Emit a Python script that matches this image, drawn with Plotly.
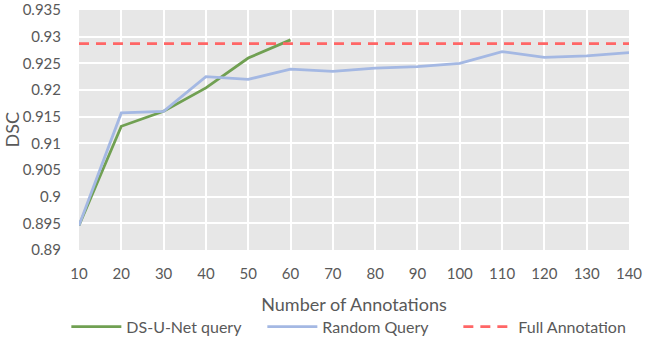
import plotly.graph_objects as go

annotations = [10, 20, 30, 40, 50, 60, 70, 80, 90, 100, 110, 120, 130, 140]
ds_unet_query = [0.8946, 0.9132, 0.9160, 0.9204, 0.9260, 0.9294]
random_query = [0.8946, 0.9157, 0.9160, 0.9225, 0.9220, 0.9239, 0.9235,
                 0.9241, 0.9244, 0.9250, 0.9272, 0.9261, 0.9264, 0.9270]
full_annotation = 0.9287

font_family = "Lato, 'Open Sans', sans-serif"
grey_text = "#595959"

fig = go.Figure()

fig.add_trace(go.Scatter(
    x=annotations[:len(ds_unet_query)],
    y=ds_unet_query,
    mode='lines',
    name='DS-U-Net query',
    line=dict(color='#70a052', width=2.8)
))

fig.add_trace(go.Scatter(
    x=annotations,
    y=random_query,
    mode='lines',
    name='Random Query',
    line=dict(color='#a4b8e3', width=2.8)
))

fig.add_trace(go.Scatter(
    x=annotations,
    y=[full_annotation] * len(annotations),
    mode='lines',
    name='Full Annotation',
    line=dict(color='#ff6666', width=2.8, dash='10px,7px')
))

fig.update_layout(
    width=653,
    height=338,
    margin=dict(l=79, r=24, t=10, b=88, autoexpand=False),
    paper_bgcolor='white',
    plot_bgcolor='#e7e7e7',
    font=dict(family=font_family, size=15, color=grey_text),
    showlegend=True,
    legend=dict(
        orientation='h',
        x=-0.023, xanchor='left',
        y=-0.32, yanchor='middle',
        font=dict(size=16, color=grey_text),
        entrywidth=131,
        entrywidthmode='pixels',
        itemwidth=50,
    ),
    xaxis=dict(
        range=[10, 140],
        tickmode='array',
        tickvals=annotations,
        automargin=False,
        showgrid=True,
        gridcolor='white',
        gridwidth=1.5,
        zeroline=False,
        ticks='outside',
        ticklen=10,
        tickcolor='rgba(0,0,0,0)',
        title=dict(text='Number of Annotations', standoff=17,
                   font=dict(size=18, color=grey_text)),
    ),
    yaxis=dict(
        range=[0.89, 0.935],
        tickmode='array',
        tickvals=[0.89, 0.895, 0.9, 0.905, 0.91, 0.915, 0.92, 0.925, 0.93, 0.935],
        ticktext=['0.89', '0.895', '0.9', '0.905', '0.91', '0.915', '0.92', '0.925', '0.93', '0.935'],
        automargin=False,
        ticklabeloverflow='allow',
        showgrid=True,
        gridcolor='white',
        gridwidth=1.5,
        zeroline=False,
        ticks='outside',
        ticklen=14,
        tickcolor='rgba(0,0,0,0)',
    ),
    annotations=[dict(
        text='DSC', textangle=-90,
        xref='paper', yref='paper',
        x=-0.121, y=0.5, xanchor='center', yanchor='middle',
        showarrow=False, borderpad=0,
        font=dict(size=18, color=grey_text),
    )],
)

# drop the default 8px body margin so the figure fills the window
fig.write_html("out.html", config={'displayModeBar': False},
               post_script="document.body.style.margin='0';")
